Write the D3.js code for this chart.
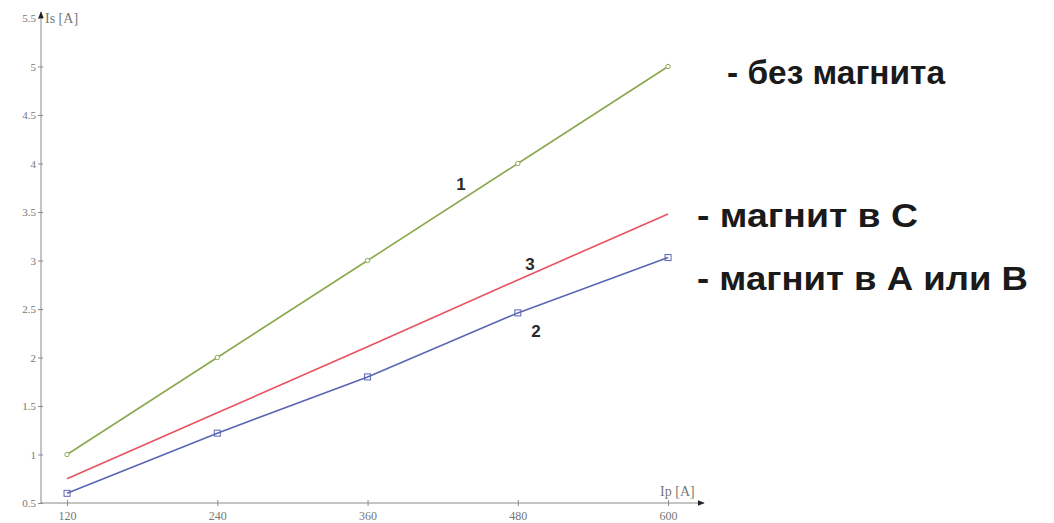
<!DOCTYPE html>
<html><head><meta charset="utf-8">
<script src="https://cdn.jsdelivr.net/npm/d3@7"></script>
<style>body{margin:0;background:#fff}svg{display:block}</style>
</head><body>
<svg id="c" width="1054" height="523"></svg>
<script>
const xValues = [120, 240, 360, 480, 600];
const greenValues = [1.0, 2.0, 3.0, 4.0, 5.0];
const redValues = [0.75, 1.43, 2.11, 2.8, 3.48];
const blueValues = [0.6, 1.22, 1.8, 2.46, 3.03];
const xTicks = [120, 240, 360, 480, 600];
const yTicks = [0.5, 1, 1.5, 2, 2.5, 3, 3.5, 4, 4.5, 5, 5.5];
const legendLabels = ["- без магнита", "- магнит в С", "- магнит в А или В"];
const curveNumbers = ["1", "3", "2"];

const svg = d3.select("#c");
const x = d3.scaleLinear().domain([99.2, 628.7]).range([41, 704]);
const y = d3.scaleLinear().domain([0.5, 5.5]).range([503, 18]);
const axisColor = "#8a8a8a";
const tickFont = "'Liberation Serif', 'DejaVu Serif', serif";

svg.append("defs").append("marker").attr("id","arr").attr("viewBox","0 0 10 10")
  .attr("refX",9).attr("refY",5).attr("markerWidth",7).attr("markerHeight",7)
  .attr("orient","auto").append("path").attr("d","M0,1L10,5L0,9Z").attr("fill","#222");

// axes
const xAxis = d3.axisBottom(x).tickValues(xTicks).tickSize(3).tickFormat(d3.format("d"));
const gx = svg.append("g").attr("transform",`translate(0,${y(0.5)})`).call(xAxis);
gx.select(".domain").remove();
gx.selectAll(".tick line").attr("stroke",axisColor).attr("y1",-3);
gx.selectAll(".tick text").attr("fill","#777").attr("font-family",tickFont).attr("font-size",12).attr("dy","0.9em");
svg.append("line").attr("x1",x.range()[0]).attr("x2",x.range()[1]).attr("y1",y(0.5)).attr("y2",y(0.5))
  .attr("stroke",axisColor).attr("stroke-width",1).attr("marker-end","url(#arr)");

const yAxis = d3.axisLeft(y).tickValues(yTicks).tickSize(3).tickFormat(d => String(d));
const gy = svg.append("g").attr("transform",`translate(${x.range()[0]},0)`).call(yAxis);
gy.select(".domain").remove();
gy.selectAll(".tick line").attr("stroke",axisColor).attr("x1",2);
gy.selectAll(".tick text").attr("fill","#777").attr("font-family",tickFont).attr("font-size",11).attr("x",-5);
svg.append("line").attr("x1",x.range()[0]).attr("x2",x.range()[0]).attr("y1",y(0.5)).attr("y2",12)
  .attr("stroke",axisColor).attr("stroke-width",1).attr("marker-end","url(#arr)");

// axis titles
svg.append("text").attr("x",x.range()[0]+4).attr("y",y(5.5)+5).attr("fill","#777")
  .attr("font-family",tickFont).attr("font-size",14).text("Is [A]");
svg.append("text").attr("x",x(600)-8).attr("y",y(0.5)-7).attr("fill","#777")
  .attr("font-family",tickFont).attr("font-size",14).text("Ip [A]");

const line = d3.line().x(d => x(d[0])).y(d => y(d[1]));
const series = [
  {vals: greenValues, color:"#8aa84e", marker:"circle"},
  {vals: redValues, color:"#e8525e", marker:"none"},
  {vals: blueValues, color:"#5a66b4", marker:"square"}
];
series.forEach(s => {
  const pts = xValues.map((v,i) => [v, s.vals[i]]);
  svg.append("path").datum(pts).attr("d", line).attr("fill","none")
    .attr("stroke", s.color).attr("stroke-width",1.6);
  if (s.marker === "circle") {
    svg.selectAll(null).data(pts).enter().append("circle")
      .attr("cx",d=>x(d[0])).attr("cy",d=>y(d[1])).attr("r",2.2)
      .attr("fill","#fff").attr("stroke",s.color).attr("stroke-width",1);
  } else if (s.marker === "square") {
    svg.selectAll(null).data(pts).enter().append("rect")
      .attr("x",d=>x(d[0])-3).attr("y",d=>y(d[1])-3).attr("width",6).attr("height",6)
      .attr("fill","none").attr("stroke",s.color).attr("stroke-width",1);
  }
});

// curve numbers
const numPos = [[434.6, 3.73], [489.7, 2.9], [494.5, 2.21]];
curveNumbers.forEach((t,i) => {
  svg.append("text").attr("x",x(numPos[i][0])).attr("y",y(numPos[i][1]))
    .attr("font-family","'Liberation Sans', Arial, sans-serif").attr("font-size",17)
    .attr("font-weight","bold").attr("fill","#2a2a2a").attr("text-anchor","middle").text(t);
});

// legend texts
const legPos = [[727, 84, 218], [697, 227, 221], [697, 290, 331]];
legendLabels.forEach((t,i) => {
  svg.append("text").attr("x",legPos[i][0]).attr("y",legPos[i][1])
    .attr("font-family","'Liberation Sans', Arial, sans-serif").attr("font-weight","bold")
    .attr("font-size",33).attr("fill","#1a1a1a")
    .attr("textLength",legPos[i][2]).attr("lengthAdjust","spacingAndGlyphs").text(t);
});
</script>
</body></html>
